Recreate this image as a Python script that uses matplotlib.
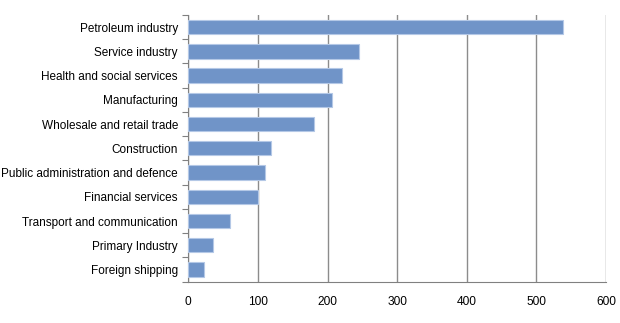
import matplotlib
matplotlib.use("Agg")
import matplotlib.pyplot as plt
import numpy as np

categories = ["Petroleum industry", "Service industry", "Health and social services",
              "Manufacturing", "Wholesale and retail trade", "Construction",
              "Public administration and defence", "Financial services",
              "Transport and communication", "Primary Industry", "Foreign shipping"]
values = [538, 245, 221, 206, 181, 119, 110, 100, 60, 35, 23]
xticks = [0, 100, 200, 300, 400, 500, 600]

plt.rcParams['font.family'] = ['Liberation Sans', 'DejaVu Sans']

fig = plt.figure(figsize=(6.2, 3.23), dpi=100)
ax = fig.add_axes([0.3037, 0.128, 0.6737, 0.8256])

y = np.arange(len(categories))
ax.barh(y, values, height=0.59, color="#7094c8", edgecolor="#b4c8e6", linewidth=0.8, zorder=3)
ax.set_ylim(len(categories) - 0.5, -0.5)
ax.set_xlim(0, 600)
ax.set_xticks(xticks)
ax.set_xticklabels([str(t) for t in xticks], fontsize=8.6)
ax.set_yticks(y)
ax.set_yticklabels(categories, fontsize=8.5)
ax.set_yticks(np.arange(-0.5, len(categories), 1.0), minor=True)
ax.tick_params(axis='y', which='major', length=0, pad=7.5)
ax.tick_params(axis='y', which='minor', length=4, color="#808080", width=0.8)
ax.tick_params(axis='x', which='major', length=0, pad=10)
ax.xaxis.grid(True, color="#8c8c8c", linewidth=1.0, zorder=0)
for s in ['top', 'right']:
    ax.spines[s].set_visible(False)
for s in ['left', 'bottom']:
    ax.spines[s].set_color("#808080")
    ax.spines[s].set_linewidth(0.8)

fig.savefig("out.png", dpi=100)
